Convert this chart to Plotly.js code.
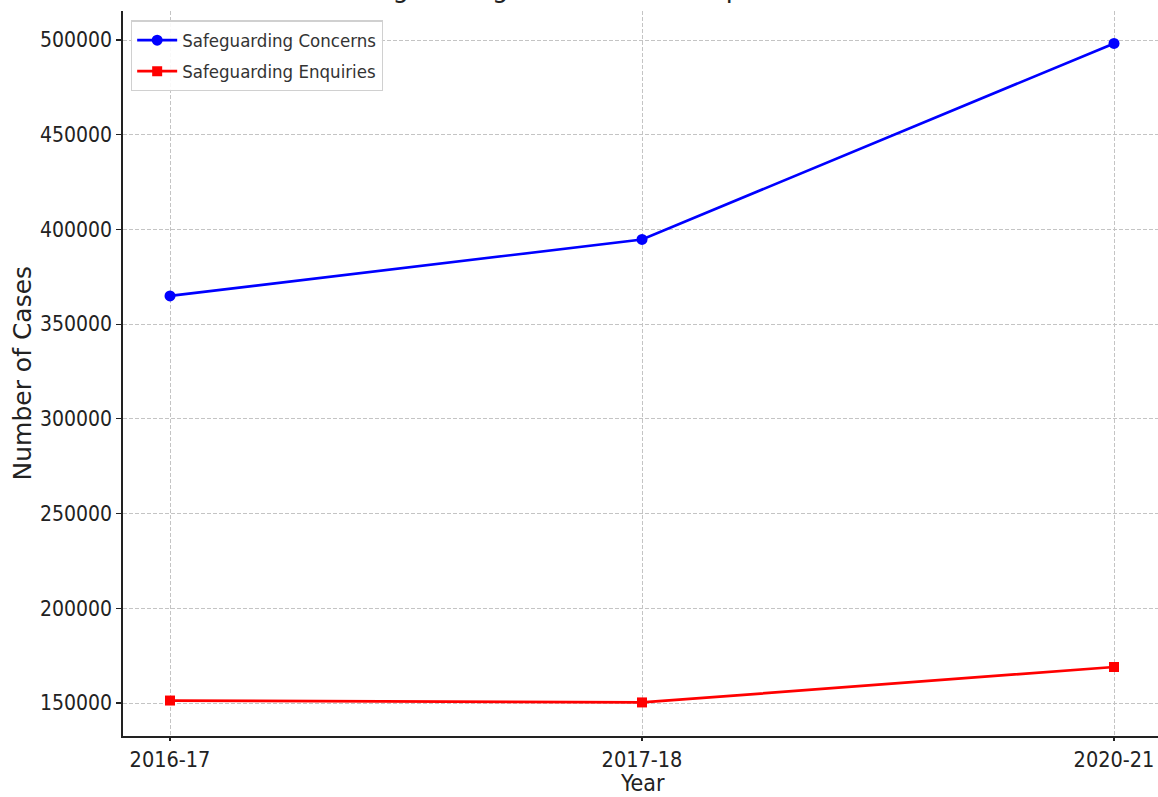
<!DOCTYPE html>
<html>
<head>
<meta charset="utf-8">
<script src="https://cdn.plot.ly/plotly-3.0.1.min.js"></script>
<style>html,body{margin:0;padding:0;background:#fff;}#chart{width:1158px;height:797px;}</style>
</head>
<body>
<div id="chart"></div>
<script>
const years = ["2016-17", "2017-18", "2020-21"];
const concerns = [364900, 394700, 498200];
const enquiries = [151300, 150300, 169000];
const seriesNames = ["Safeguarding Concerns", "Safeguarding Enquiries"];
const titleText = "Safeguarding Concerns vs Enquiries Over Time";
const xTitle = "Year";
const yTitle = "Number of Cases";
const yTicks = [150000, 200000, 250000, 300000, 350000, 400000, 450000, 500000];

const narrow = "'DejaVu Sans Condensed', 'DejaVu Sans', sans-serif";
const regular = "'DejaVu Sans', sans-serif";

const traces = [
  {x: years, y: concerns, name: seriesNames[0], legendgroup: "a", type: "scatter", mode: "lines+markers",
   line: {color: "#0000ff", width: 2.7}, marker: {symbol: "circle", size: 11, color: "#0000ff"}},
  {x: years, y: enquiries, name: seriesNames[1], legendgroup: "b", type: "scatter", mode: "lines+markers",
   line: {color: "#ff0000", width: 2.7}, marker: {symbol: "square", size: 10, color: "#ff0000"}}
];

const layout = {
  width: 1158, height: 797,
  margin: {l: 123, r: 0, t: 11, b: 61},
  paper_bgcolor: "#fff", plot_bgcolor: "#fff",
  showlegend: true,
  legend: {x: 0.0077, y: 0.987, xanchor: "left", yanchor: "top",
           bgcolor: "rgba(255,255,255,0.9)", bordercolor: "#d0d0d0", borderwidth: 1.2,
           font: {family: narrow, size: 18.5, color: "#333"}, itemwidth: 40,
           traceorder: "grouped", tracegroupgap: 4},
  xaxis: {type: "category", range: [-0.0996, 2.0932],
          showline: true, linecolor: "#222", linewidth: 1.8, mirror: false,
          ticks: "outside", ticklen: 3, tickcolor: "#222", tickwidth: 1.2,
          showgrid: true, gridcolor: "#c4c4c4", griddash: "4px,2px", gridwidth: 1,
          zeroline: false,
          tickfont: {family: narrow, size: 21.5, color: "#222"}},
  yaxis: {range: [132579, 515309], tickvals: yTicks, ticktext: yTicks.map(String),
          showline: true, linecolor: "#222", linewidth: 1.8, mirror: false,
          ticks: "outside", ticklen: 5, tickcolor: "#222", tickwidth: 1.2,
          showgrid: true, gridcolor: "#c4c4c4", griddash: "4px,2px", gridwidth: 1,
          zeroline: false,
          tickfont: {family: narrow, size: 21, color: "#222"}},
  annotations: [
    {text: titleText, xref: "paper", yref: "paper", x: 0.5, y: 1, xanchor: "center", yanchor: "bottom",
     yshift: 6, showarrow: false, font: {family: regular, size: 26, color: "#222"}},
    {text: xTitle, xref: "paper", yref: "paper", x: (642 - 123) / 1035, y: 0, xanchor: "center", yanchor: "middle",
     yshift: -47, showarrow: false, borderpad: 0, font: {family: narrow, size: 23, color: "#222"}},
    {text: yTitle, xref: "paper", yref: "paper", x: 0, y: 0.5, xanchor: "center", yanchor: "middle",
     xshift: -101, textangle: -90, showarrow: false, font: {family: regular, size: 25, color: "#222"}}
  ]
};

Plotly.newPlot("chart", traces, layout, {displayModeBar: false, staticPlot: true});
</script>
</body>
</html>
